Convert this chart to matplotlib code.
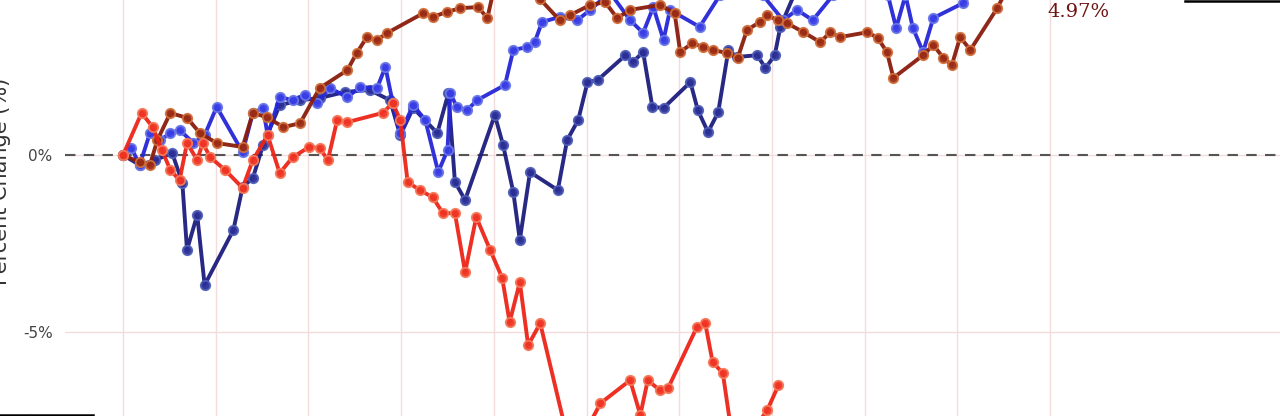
import matplotlib
matplotlib.use("Agg")
import matplotlib.pyplot as plt
from matplotlib.lines import Line2D

# trading-day index, percent change from start
red_x = [0, 2.0, 3.2, 4.2, 5.1, 6.1, 6.9, 8.0, 8.6, 9.4, 11.0, 12.9, 14.0, 15.6, 16.9,
         18.3, 20.1, 21.2, 22.1, 23.1, 24.2, 28.0, 29.1, 29.9, 30.7, 32.0, 33.4, 34.5,
         35.8, 36.9, 38.1, 39.6, 40.9, 41.7, 42.8, 43.7, 45.0, 47.5, 49.3, 51.5, 54.7,
         55.8, 56.6, 57.9, 58.8, 61.9, 62.8, 63.6, 64.7, 65.5, 67.4, 69.5, 70.7]
red_y = [0, 1.19, 0.79, 0.14, -0.42, -0.71, 0.34, -0.14, 0.34, -0.06, -0.42, -0.93, -0.14,
         0.56, -0.51, -0.06, 0.23, 0.20, -0.14, 0.99, 0.93, 1.19, 1.47, 0.99, -0.76, -0.99,
         -1.19, -1.64, -1.64, -3.31, -1.75, -2.68, -3.47, -4.72, -3.59, -5.37, -4.75, -7.5,
         -8.1, -7.01, -6.36, -7.34, -6.36, -6.64, -6.58, -4.86, -4.75, -5.85, -6.16, -7.6,
         -8.0, -7.2, -6.5]

darkred_x = [0, 1.8, 2.9, 3.7, 5.1, 6.9, 8.3, 10.1, 12.9, 14.0, 15.5, 17.3, 19.1, 21.2,
             24.2, 25.2, 26.3, 27.4, 28.5, 32.4, 33.4, 34.9, 36.4, 38.3, 39.3, 40.1, 42.8,
             45.0, 47.1, 48.2, 50.4, 52.0, 53.3, 54.7, 57.9, 59.5, 60.1, 61.4, 62.6, 63.6,
             65.2, 66.3, 67.3, 68.7, 69.5, 70.6, 71.6, 73.4, 75.2, 76.3, 77.3, 80.3, 81.4,
             82.4, 83.1, 86.3, 87.4, 88.5, 89.4, 90.3, 91.4, 94.3, 95.9]
darkred_y = [0, -0.20, -0.28, 0.42, 1.19, 1.05, 0.62, 0.34, 0.23, 1.19, 1.07, 0.79, 0.90,
             1.89, 2.40, 2.88, 3.33, 3.25, 3.45, 4.01, 3.90, 4.04, 4.15, 4.18, 3.87, 4.80,
             4.94, 4.40, 3.81, 3.95, 4.24, 4.32, 3.87, 4.10, 4.24, 4.01, 2.91, 3.16, 3.05,
             2.97, 2.88, 2.74, 3.53, 3.76, 3.95, 3.81, 3.73, 3.47, 3.19, 3.47, 3.33, 3.47,
             3.31, 2.91, 2.18, 2.82, 3.11, 2.74, 2.54, 3.33, 2.97, 4.15, 4.97]

blue_x = [0, 0.9, 1.8, 2.9, 4.0, 5.1, 6.1, 7.6, 8.8, 10.1, 12.9, 14.0, 15.1, 15.6, 16.9,
          18.3, 19.6, 20.9, 22.3, 24.2, 25.6, 27.4, 28.3, 29.1, 29.9, 31.3, 32.6, 34.0,
          35.0, 35.3, 36.0, 37.1, 38.2, 41.2, 42.1, 43.6, 44.4, 45.2, 47.1, 49.0, 50.4,
          52.5, 54.7, 56.1, 57.2, 58.3, 59.0, 62.2, 64.4, 66.6, 69.0, 71.2, 72.7, 74.4,
          76.6, 79.5, 82.5, 83.4, 84.4, 85.2, 86.3, 87.4, 90.6, 94.1]
blue_y = [0, 0.20, -0.28, 0.62, 0.42, 0.62, 0.71, 0.34, 0.56, 1.36, 0.08, 1.19, 1.33, 0.56,
          1.64, 1.55, 1.69, 1.47, 1.89, 1.64, 1.92, 1.89, 2.49, 1.47, 0.62, 1.41, 0.99,
          -0.48, 0.14, 1.75, 1.36, 1.27, 1.55, 1.98, 2.97, 3.05, 3.19, 3.76, 3.90, 3.81,
          4.10, 4.60, 3.81, 3.45, 4.18, 3.25, 4.10, 3.62, 4.52, 4.94, 4.52, 3.81, 4.10,
          3.81, 4.52, 5.08, 4.52, 3.59, 4.52, 3.59, 2.91, 3.87, 4.29, 5.23]

navy_x = [0, 1.8, 3.5, 5.3, 6.4, 6.9, 8.0, 8.8, 11.9, 12.9, 14.0, 15.1, 16.9, 19.1, 21.2,
          23.9, 26.6, 28.8, 29.9, 31.3, 33.9, 35.1, 35.8, 36.9, 40.1, 41.0, 42.1, 42.8,
          43.9, 46.9, 47.9, 49.1, 50.1, 51.2, 54.2, 55.0, 56.1, 57.1, 58.3, 61.2, 62.0,
          63.1, 64.2, 65.3, 66.2, 68.4, 69.3, 70.3, 70.9, 73.0, 95.9]
navy_y = [0, -0.28, -0.14, 0.06, -0.79, -2.68, -1.69, -3.67, -2.12, -0.90, -0.65, 0.28,
          1.41, 1.55, 1.61, 1.78, 1.84, 1.55, 0.56, 1.33, 0.62, 1.75, -0.76, -1.27, 1.13,
          0.28, -1.05, -2.40, -0.48, -0.99, 0.42, 0.99, 2.06, 2.12, 2.82, 2.63, 2.91, 1.36,
          1.33, 2.06, 1.27, 0.65, 1.21, 2.97, 2.77, 2.82, 2.46, 2.82, 3.62, 4.9, 6.2]

yticks = [-5, 0]
ytick_labels = ["-5%", "0%"]
xticks = list(range(0, 101, 10))

series = [
    (navy_x, navy_y, "#1c1c7e", "#2b2f96", "#5060b8"),
    (blue_x, blue_y, "#2626d8", "#3a3ee6", "#6a78e6"),
    (darkred_x, darkred_y, "#8a1c0c", "#9c2c14", "#d0703c"),
    (red_x, red_y, "#ec2418", "#f03424", "#f47a5a"),
]

fig = plt.figure(figsize=(12.8, 4.16), dpi=100)
ax = fig.add_axes([65 / 1280, 0, 1 - 65 / 1280, 1])

for xs, ys, line_c, face_c, edge_c in series:
    ax.plot(xs, ys, color=line_c, lw=2.8, alpha=0.95, solid_joinstyle="round",
            marker="o", ms=6.8, mfc=face_c, mec=edge_c, mew=1.3, zorder=3)

ax.axhline(0, color="#555555", lw=1.5, ls=(0, (5, 4)), zorder=2)

ax.annotate("4.97%", xy=(darkred_x[-1], darkred_y[-1]), xytext=(48, -24),
            textcoords="offset points", ha="center", va="center",
            fontsize=14, family="DejaVu Serif", color="#6e1212",
            annotation_clip=False)

ax.set_xticks(xticks)
ax.set_yticks(yticks)
ax.set_yticklabels(ytick_labels)
ax.set_xlim(-6.26, 124.8)
ax.set_ylim(-7.37, 4.38)
ax.tick_params(axis="x", length=0, labelbottom=False)
ax.tick_params(axis="y", length=0, pad=9, labelsize=11, labelcolor="#444444")
ax.grid(True, color="#f2dcdc", lw=1.0)
ax.set_axisbelow(True)
for s in ax.spines.values():
    s.set_visible(False)

fig.text(1 / 1280, 0.565, "Percent Change (%)", rotation=90, ha="center", va="center",
         fontsize=15, color="#333333")

# edges of frames cut off by the crop
for x0, x1, y in [(0, 30, 1.5), (32, 93, 1.5), (1185, 1280, 415.5)]:
    fig.add_artist(Line2D([x0 / 1280, x1 / 1280], [y / 416, y / 416],
                          transform=fig.transFigure, color="black", lw=1.8))

fig.savefig("out.png", dpi=100)
